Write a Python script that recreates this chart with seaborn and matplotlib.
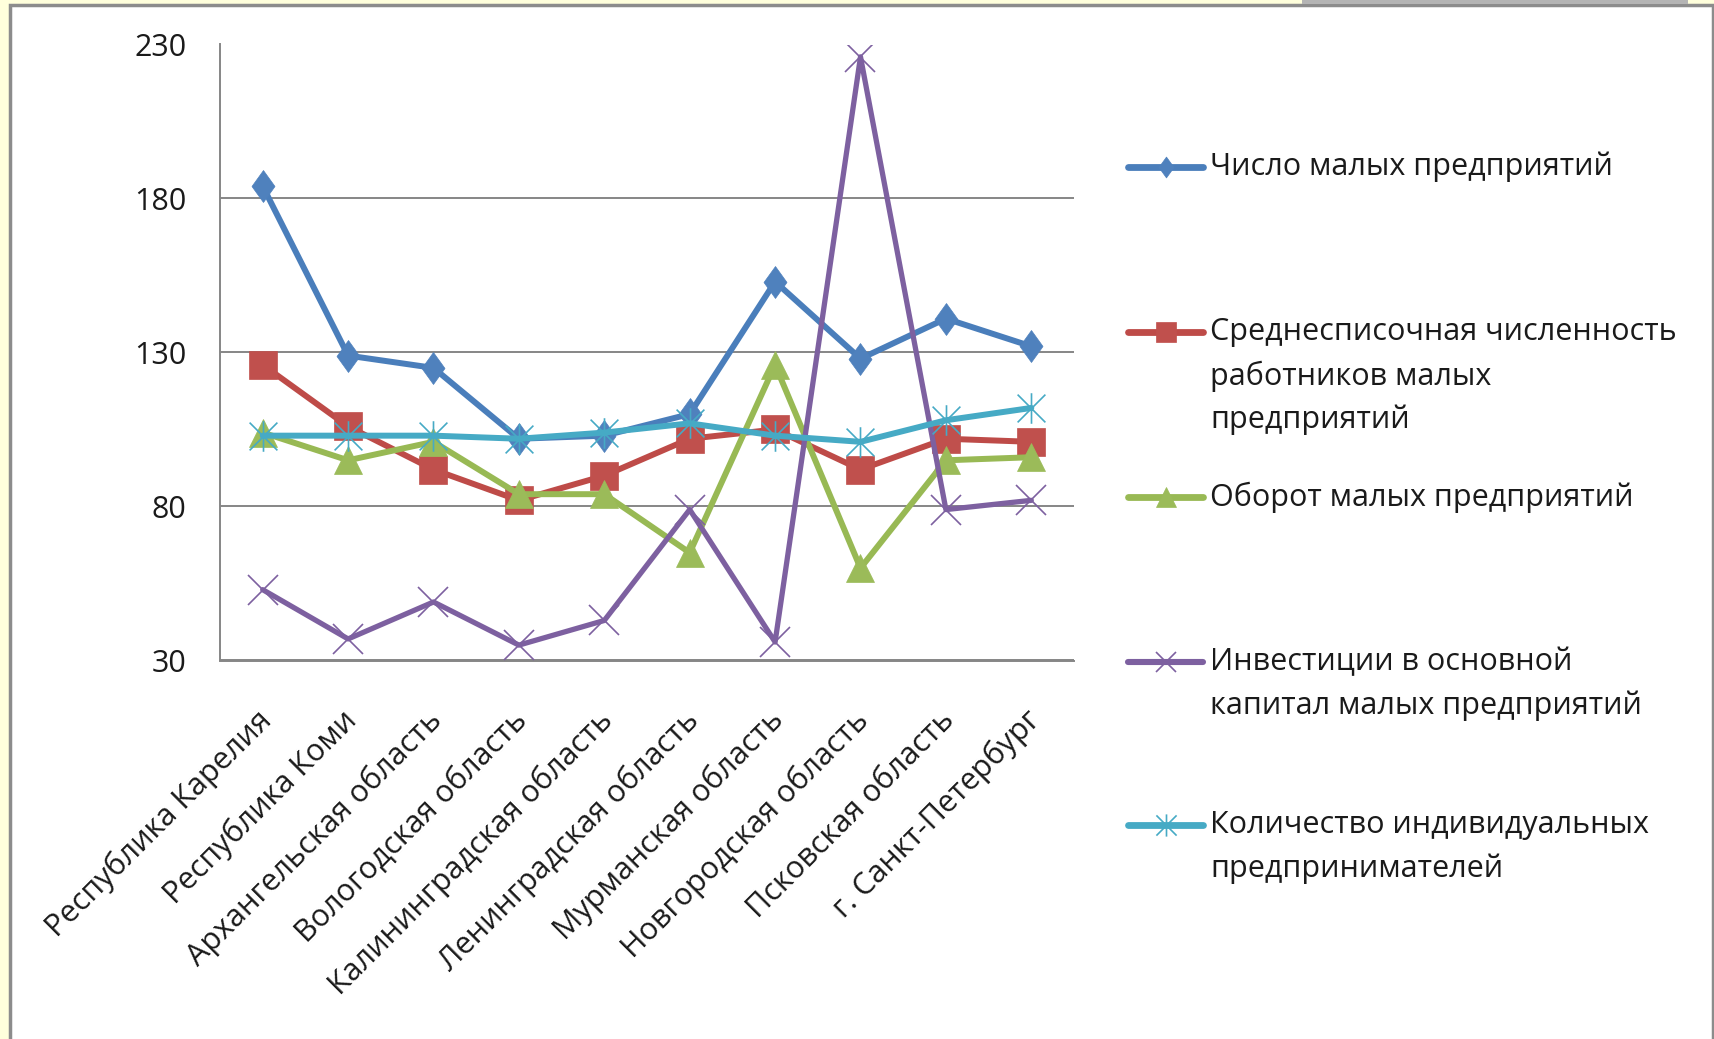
import numpy as np
import pandas as pd
import matplotlib
matplotlib.use('Agg')
import matplotlib.pyplot as plt
from matplotlib.lines import Line2D
from matplotlib.patches import Rectangle
from matplotlib.path import Path
from matplotlib.transforms import ScaledTranslation
import seaborn as sns

# ---------------- data ----------------
regions = ['Республика Карелия', 'Республика Коми', 'Архангельская область',
           'Вологодская область', 'Калининградская область', 'Ленинградская область',
           'Мурманская область', 'Новгородская область', 'Псковская область',
           'г. Санкт-Петербург']

series_names = ['Число малых предприятий',
                'Среднесписочная численность\nработников малых\nпредприятий',
                'Оборот малых предприятий',
                'Инвестиции в основной\nкапитал малых предприятий',
                'Количество индивидуальных\nпредпринимателей']

small_firms = [184, 129, 125, 102, 103, 110, 153, 128, 141, 132]
employees = [126, 106, 92, 82, 90, 102, 105, 92, 102, 101]
turnover = [104, 95, 101, 84, 84, 65, 126, 60, 95, 96]
investment = [53, 37, 49, 35, 43, 79, 36, 226, 79, 82]
entrepreneurs = [103, 103, 103, 102, 104, 107, 103, 101, 108, 112]

y_ticks = [30, 80, 130, 180, 230]

# ---------------- style ----------------
sns.set_theme(style='white')
plt.rcParams['font.family'] = ['Open Sans', 'DejaVu Sans']

W, H = 1715, 1039
FS = 22

diamond = Path([(0, 1), (0.72, 0), (0, -1), (-0.72, 0), (0, 1)],
               [Path.MOVETO, Path.LINETO, Path.LINETO, Path.LINETO, Path.CLOSEPOLY])
asterisk = Path([(-1, -1), (1, 1), (-1, 1), (1, -1), (0, -1.1), (0, 1.1)],
                [Path.MOVETO, Path.LINETO, Path.MOVETO, Path.LINETO, Path.MOVETO, Path.LINETO])

styles = [
    dict(color='#4A7EBB', marker=diamond, ms=23, mew=0.5, lw=4.3, mfc='#4F81BD', lms=15),
    dict(color='#BE4B48', marker='s', ms=19.5, mew=0.5, lw=4.3, mfc='#C0504D', lms=14),
    dict(color='#98B954', marker='^', ms=20, mew=0.5, lw=4.3, mfc='#9BBB59', lms=14),
    dict(color='#7D60A0', marker='x', ms=21, mew=1.2, lw=3.8, mfc='#7D60A0', lms=15),
    dict(color='#46AAC5', marker=asterisk, ms=22, mew=1.2, lw=4.3, mfc='#46AAC5', lms=16),
]
all_values = [small_firms, employees, turnover, investment, entrepreneurs]

fig = plt.figure(figsize=(W / 100, H / 100), dpi=100, facecolor='#FFFFDC')
# slide frame
fig.patches.append(Rectangle((10 / W, -0.01), (1713 - 10) / W, 1 - 5 / H + 0.01,
                             transform=fig.transFigure, facecolor='white',
                             edgecolor='#8C8C8C', lw=2.5, zorder=-5))
fig.patches.append(Rectangle((1302 / W, 1 - 4 / H), (1688 - 1302) / W, 4 / H,
                             transform=fig.transFigure, facecolor='#B4B4B4',
                             edgecolor='none', zorder=-4))

ax = fig.add_axes([220 / W, 1 - 660.5 / H, (1074 - 220) / W, (660.5 - 44.5) / H])
ax.set_facecolor('white')
ax.set_zorder(1)

for vals, st in zip(all_values, styles):
    df = pd.DataFrame({'region': regions, 'value': vals})
    sns.lineplot(data=df, x='region', y='value', sort=False, ax=ax,
                 color=st['color'], lw=st['lw'], marker=st['marker'],
                 markersize=st['ms'], markeredgecolor=st['mfc'],
                 markerfacecolor=st['mfc'], markeredgewidth=st['mew'],
                 solid_joinstyle='round', solid_capstyle='round', zorder=3)

ax.set_xlim(-0.5, len(regions) - 0.5)
ax.set_ylim(y_ticks[0], y_ticks[-1])
ax.set_yticks(y_ticks)
ax.set_yticklabels([str(t) for t in y_ticks])
ax.set_xticks(range(len(regions)))
ax.set_xticklabels(regions)
ax.set_xlabel('')
ax.set_ylabel('')
ax.yaxis.grid(True, color='#868686', lw=1.4, zorder=0)
ax.set_axisbelow(True)
for s in ['top', 'right']:
    ax.spines[s].set_visible(False)
for s in ['left', 'bottom']:
    ax.spines[s].set_color('#868686')
    ax.spines[s].set_linewidth(1.4)
ax.tick_params(axis='y', length=0, pad=24, labelsize=FS, labelcolor='#1A1A1A')
ax.tick_params(axis='x', length=0, pad=44, labelsize=FS, labelcolor='#1A1A1A')
shift = ScaledTranslation(10 / 100, 0, fig.dpi_scale_trans)
for lab in ax.get_xticklabels():
    lab.set_rotation(45)
    lab.set_ha('right')
    lab.set_va('baseline')
    lab.set_rotation_mode('anchor')
    lab.set_transform(lab.get_transform() + shift)

# ---------------- legend ----------------
entry_y = [167, 332, 497, 662, 825]
line_gap = 44
hx0, hx1, tx = 1128, 1203, 1210
for name, st, yp in zip(series_names, styles, entry_y):
    yf = 1 - yp / H
    h = Line2D([hx0 / W, (hx0 + hx1) / 2 / W, hx1 / W], [yf, yf, yf],
               transform=fig.transFigure, color=st['color'], lw=st['lw'] + 0.6,
               marker=st['marker'], markevery=[1], markersize=st['lms'],
               markerfacecolor=st['mfc'], markeredgecolor=st['mfc'],
               markeredgewidth=st['mew'], solid_capstyle='round')
    fig.add_artist(h)
    for k, line in enumerate(name.split('\n')):
        fig.text(tx / W, 1 - (yp + k * line_gap) / H, line, fontsize=FS,
                 color='#1A1A1A', va='center', ha='left')

fig.savefig('out.png', dpi=100, facecolor=fig.get_facecolor())
